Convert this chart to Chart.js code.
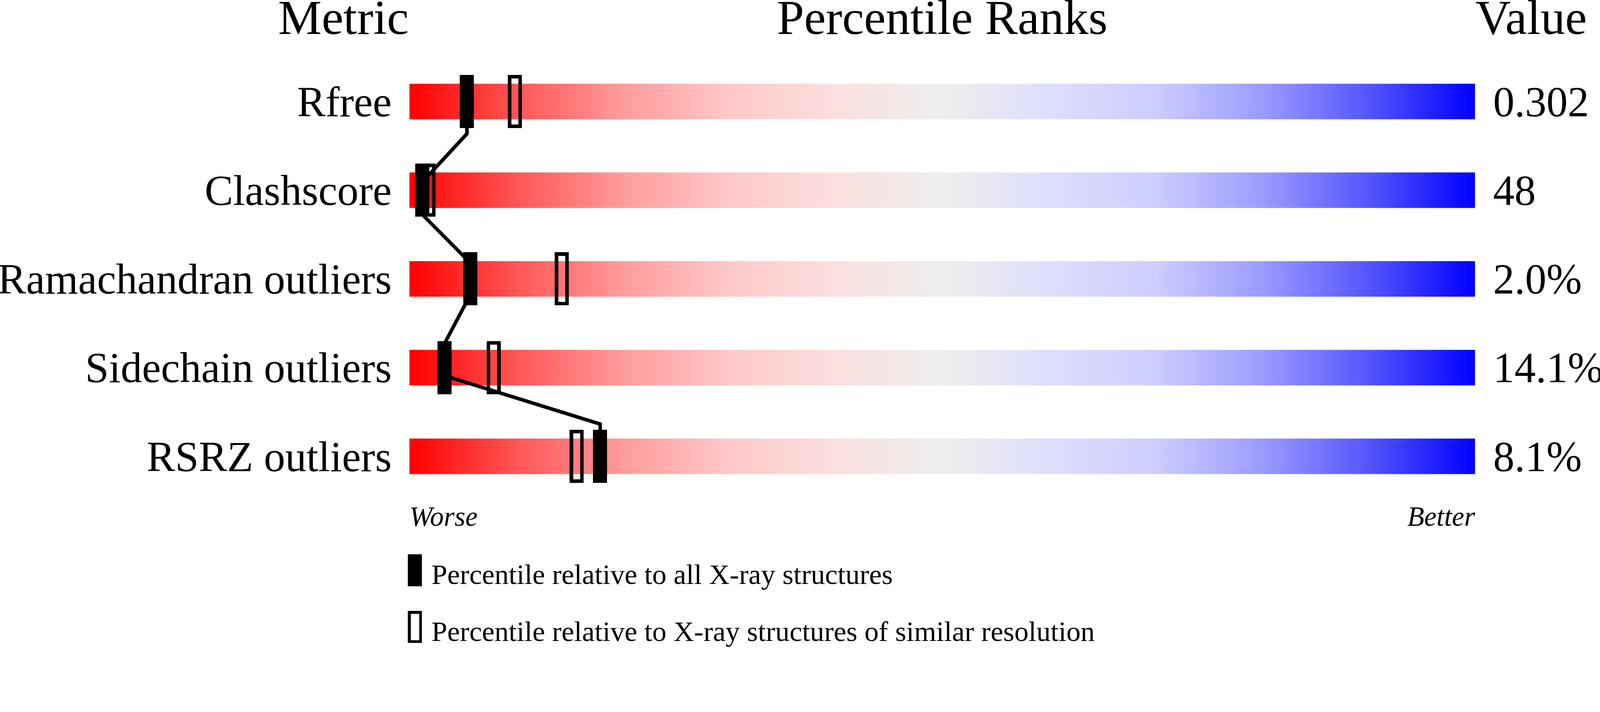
<!DOCTYPE html>
<html>
<head>
<meta charset="utf-8">
<title>Percentile Ranks</title>
<script src="https://cdn.jsdelivr.net/npm/chart.js@4.4.1/dist/chart.umd.min.js"></script>
<style>
  html, body { margin: 0; padding: 0; background: #fff; overflow: hidden; }
  canvas { display: block; }
</style>
</head>
<body>
<canvas id="ranks"></canvas>
<script>
const metrics = ['Rfree', 'Clashscore', 'Ramachandran outliers', 'Sidechain outliers', 'RSRZ outliers']
const values = ['0.302', '48', '2.0%', '14.1%', '8.1%']
// percentile relative to all X-ray structures (filled marker)
const pctAll = [5.4, 1.2, 5.7, 3.3, 17.9]
// percentile relative to structures of similar resolution (open marker)
const pctSimilar = [9.9, 1.8, 14.3, 7.9, 15.7]
const scaleEnds = ['Worse', 'Better']
const headers = ['Metric', 'Percentile Ranks', 'Value']
const legendLabels = [
  'Percentile relative to all X-ray structures',
  'Percentile relative to X-ray structures of similar resolution'
]

const FONT = '"Liberation Serif", "Times New Roman", serif'
const BAR_FRACTION = 0.4

// layout was measured on a 4506 px wide picture, scale it to the window
const W = window.innerWidth
const H = window.innerHeight
const S = Math.min(W / 4506, H / 1824)
const px = (v) => v * S

// red -> grey -> blue slider
const gradientStops = [
  [0, 'rgb(255,0,0)'],
  [0.1, 'rgb(255,85,85)'],
  [0.2, 'rgb(255,155,155)'],
  [0.3, 'rgb(255,200,200)'],
  [0.4, 'rgb(251,223,223)'],
  [0.5, 'rgb(238,238,238)'],
  [0.6, 'rgb(222,222,252)'],
  [0.7, 'rgb(205,205,255)'],
  [0.8, 'rgb(155,155,255)'],
  [0.9, 'rgb(85,85,255)'],
  [1, 'rgb(0,0,255)']
]

function makeMarker(w, h, filled, stroke) {
  const c = document.createElement('canvas')
  c.width = Math.round(px(w))
  c.height = Math.round(px(h))
  const g = c.getContext('2d')
  g.fillStyle = '#000'
  g.strokeStyle = '#000'
  if (filled) {
    g.fillRect(0, 0, c.width, c.height)
  } else {
    const lw = px(stroke)
    g.lineWidth = lw
    g.strokeRect(lw / 2, lw / 2, c.width - lw, c.height - lw)
  }
  return c
}

const markerAll = makeMarker(40, 150, true)
const markerSimilar = makeMarker(40, 150, false, 10)
const legendAll = makeMarker(40, 90, true)
const legendSimilar = makeMarker(40, 90, false, 8)

let gradientCache = null
function sliderGradient(context) {
  const chart = context.chart
  const area = chart.chartArea
  if (!area) return 'rgb(238,238,238)'
  if (!gradientCache || gradientCache.w !== area.right - area.left) {
    const grad = chart.ctx.createLinearGradient(area.left, 0, area.right, 0)
    for (const [pos, col] of gradientStops) grad.addColorStop(pos, col)
    gradientCache = { w: area.right - area.left, grad: grad }
  }
  return gradientCache.grad
}

// the link runs from the bottom of one bar to the top of the next one
const half = BAR_FRACTION / 2
const linkPoints = []
pctAll.forEach((p, i) => {
  linkPoints.push({ x: p, y: i - half })
  linkPoints.push({ x: p, y: i + half })
})

const headerPlugin = {
  id: 'headers',
  afterDraw(chart) {
    const { ctx, chartArea: a } = chart
    ctx.save()
    ctx.fillStyle = '#000'
    ctx.textBaseline = 'alphabetic'
    ctx.font = px(138) + 'px ' + FONT
    ctx.textAlign = 'right'
    ctx.fillText(headers[0], a.left - px(2), px(96))
    ctx.textAlign = 'center'
    ctx.fillText(headers[1], (a.left + a.right) / 2, px(96))
    ctx.textAlign = 'left'
    ctx.fillText(headers[2], a.right + px(1), px(96))

    // legend
    ctx.font = px(80) + 'px ' + FONT
    ctx.drawImage(legendAll, a.left - px(4), px(1562))
    ctx.fillText(legendLabels[0], a.left + px(62), px(1646))
    ctx.drawImage(legendSimilar, a.left - px(4), px(1722))
    ctx.fillText(legendLabels[1], a.left + px(62), px(1806))
    ctx.restore()
  }
}

Chart.defaults.font.family = FONT
Chart.defaults.color = '#000'

const el = document.getElementById('ranks')
el.width = W
el.height = H
const ctx = el.getContext('2d')
// eslint-disable-next-line no-unused-vars
const chart = new Chart(ctx, {
  type: 'bar',
  data: {
    labels: metrics,
    datasets: [
      {
        type: 'bar',
        data: metrics.map(() => [0, 100]),
        backgroundColor: sliderGradient,
        borderWidth: 0,
        grouped: false,
        barPercentage: BAR_FRACTION,
        categoryPercentage: 1,
        order: 4
      },
      {
        type: 'scatter',
        label: legendLabels[1],
        data: pctSimilar.map((p, i) => ({ x: p, y: metrics[i] })),
        pointStyle: markerSimilar,
        pointRadius: 3,
        order: 3
      },
      {
        type: 'line',
        data: linkPoints,
        yAxisID: 'yl',
        borderColor: '#000',
        borderWidth: px(10),
        pointRadius: 0,
        tension: 0,
        fill: false,
        order: 2
      },
      {
        type: 'scatter',
        label: legendLabels[0],
        data: pctAll.map((p, i) => ({ x: p, y: metrics[i] })),
        pointStyle: markerAll,
        pointRadius: 3,
        order: 1
      }
    ]
  },
  options: {
    indexAxis: 'y',
    responsive: false,
    animation: false,
    events: [],
    layout: { padding: { top: px(161), left: 0, right: 0, bottom: 0 } },
    plugins: {
      legend: { display: false },
      tooltip: { enabled: false }
    },
    scales: {
      x: {
        type: 'linear',
        min: 0,
        max: 100,
        position: 'bottom',
        grid: { display: false, drawTicks: false },
        border: { display: false },
        afterBuildTicks: (axis) => { axis.ticks = [{ value: 0 }, { value: 100 }] },
        afterFit: (axis) => { axis.height = H - px(1411) },
        ticks: {
          align: 'inner',
          maxRotation: 0,
          autoSkip: false,
          padding: px(3),
          font: { size: px(78), style: 'italic' },
          callback: (v, i) => scaleEnds[i]
        }
      },
      y: {
        type: 'category',
        position: 'left',
        offset: true,
        grid: { display: false, drawTicks: false },
        border: { display: false },
        afterFit: (axis) => { axis.width = px(1153) },
        ticks: {
          autoSkip: false,
          padding: px(50),
          labelOffset: px(10),
          font: { size: px(120) }
        }
      },
      y2: {
        type: 'category',
        position: 'right',
        labels: values,
        offset: true,
        grid: { display: false, drawTicks: false },
        border: { display: false },
        afterFit: (axis) => { axis.width = W - px(4154) },
        ticks: {
          autoSkip: false,
          padding: px(51),
          labelOffset: px(10),
          font: { size: px(120) }
        }
      },
      yl: {
        type: 'linear',
        display: false,
        min: -0.5,
        max: metrics.length - 0.5,
        reverse: true
      }
    }
  },
  plugins: [headerPlugin]
})
</script>
</body>
</html>
